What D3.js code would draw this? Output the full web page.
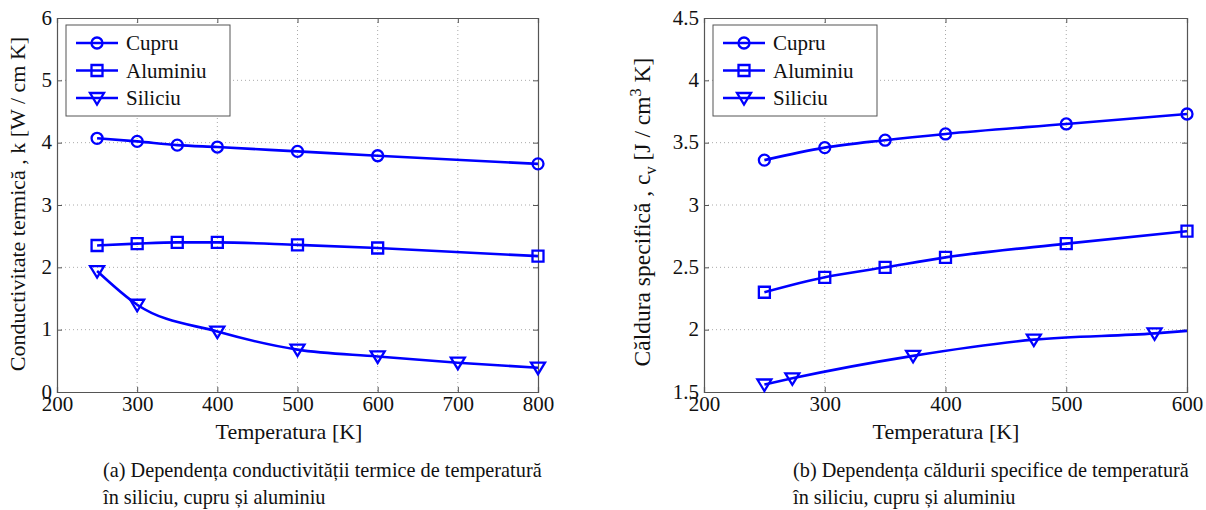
<!DOCTYPE html>
<html>
<head>
<meta charset="utf-8">
<script src="https://cdn.jsdelivr.net/npm/d3@7"></script>
<style>
  html, body { margin: 0; padding: 0; background: #fff; }
  svg { display: block; }
  svg text { font-family: "Liberation Serif", "Times New Roman", serif !important; fill: #111; }
</style>
</head>
<body>
<svg id="chart" width="1206" height="510"></svg>
<script>
// ---------- data ----------
// (a) thermal conductivity k [W / cm K]
const seriesNames = ["Cupru", "Aluminiu", "Siliciu"];
const leftTemps = [250, 300, 350, 400, 500, 600, 800];
const leftCupru = [4.07, 4.02, 3.96, 3.93, 3.86, 3.79, 3.66];
const leftAluminiu = [2.35, 2.38, 2.40, 2.40, 2.36, 2.31, 2.18];
const leftSiliciuTemps = [250, 300, 400, 500, 600, 700, 800];
const leftSiliciu = [1.94, 1.40, 0.97, 0.68, 0.57, 0.47, 0.39];
const leftXTicks = [200, 300, 400, 500, 600, 700, 800];
const leftYTicks = [0, 1, 2, 3, 4, 5, 6];

// (b) specific heat c_v [J / cm^3 K]
const rightTemps = [250, 300, 350, 400, 500, 600];
const rightCupru = [3.36, 3.46, 3.52, 3.57, 3.65, 3.73];
const rightAluminiu = [2.30, 2.42, 2.50, 2.58, 2.69, 2.79];
const rightSiliciuTemps = [250, 273.15, 373.15, 473.15, 573.15, 600];
const rightSiliciu = [1.56, 1.61, 1.79, 1.92, 1.97, 1.99];
const rightSiliciuMarked = [true, true, true, true, true, false];
const rightXTicks = [200, 300, 400, 500, 600];
const rightYTicks = [1.5, 2, 2.5, 3, 3.5, 4, 4.5];

const xLabel = "Temperatura [K]";
const captionA = ["(a) Dependența conductivității termice de temperatură", "în siliciu, cupru și aluminiu"];
const captionB = ["(b) Dependența căldurii specifice de temperatură", "în siliciu, cupru și aluminiu"];

// ---------- drawing ----------
const svg = d3.select("#chart");
const BLUE = "#0000ff";
const SERIF = "'Liberation Serif', 'Times New Roman', serif";
const FS_TICK = 21, FS_LABEL = 22, FS_LEG = 21, FS_CAP = 20.3;

function zip(xs, ys, flags) {
  return xs.map((x, i) => ({ x, y: ys[i], m: flags ? flags[i] : true }));
}

function markerPath(kind) {
  if (kind === "circle") {
    const r = 5.5;
    return `M${-r},0A${r},${r} 0 1,0 ${r},0A${r},${r} 0 1,0 ${-r},0Z`;
  }
  if (kind === "square") {
    const h = 5.5;
    return `M${-h},${-h}H${h}V${h}H${-h}Z`;
  }
  const w = 7, t = 5, b = 6.5;
  return `M${-w},${-t}H${w}L0,${b}Z`;
}

function drawPanel(cfg) {
  const { x0, x1, y0, y1 } = cfg;
  const x = d3.scaleLinear().domain(cfg.xDomain).range([x0, x1]);
  const y = d3.scaleLinear().domain(cfg.yDomain).range([y1, y0]);
  const g = svg.append("g");

  // grid
  g.append("g").selectAll("line").data(cfg.xTicks.slice(1, -1)).join("line")
    .attr("x1", d => x(d)).attr("x2", d => x(d)).attr("y1", y0).attr("y2", y1)
    .attr("stroke", "#aaa").attr("stroke-width", 1).attr("stroke-dasharray", "1,3");
  g.append("g").selectAll("line").data(cfg.yTicks.slice(1, -1)).join("line")
    .attr("y1", d => y(d)).attr("y2", d => y(d)).attr("x1", x0).attr("x2", x1)
    .attr("stroke", "#aaa").attr("stroke-width", 1).attr("stroke-dasharray", "1,3");

  // axes (ticks inward on all sides)
  const fmt = d => String(d);
  const axB = g.append("g").attr("transform", `translate(0,${y1})`)
    .call(d3.axisBottom(x).tickValues(cfg.xTicks).tickSize(-5).tickPadding(4).tickFormat(fmt));
  const axT = g.append("g").attr("transform", `translate(0,${y0})`)
    .call(d3.axisTop(x).tickValues(cfg.xTicks).tickSize(-5).tickFormat(""));
  const axL = g.append("g").attr("transform", `translate(${x0},0)`)
    .call(d3.axisLeft(y).tickValues(cfg.yTicks).tickSize(-5).tickPadding(5).tickFormat(fmt));
  const axR = g.append("g").attr("transform", `translate(${x1},0)`)
    .call(d3.axisRight(y).tickValues(cfg.yTicks).tickSize(-5).tickFormat(""));
  [axB, axT, axL, axR].forEach(a => {
    a.attr("font-family", SERIF).attr("font-size", FS_TICK);
    a.select(".domain").attr("stroke", "#555").attr("stroke-width", 1.2);
    a.selectAll(".tick line").attr("stroke", "#555");
    a.selectAll(".tick text").style("font-family", SERIF).attr("font-size", FS_TICK).attr("fill", "#111");
  });
  axB.selectAll(".tick text").attr("dy", "0.71em");
  axL.selectAll(".tick text").attr("dy", "0.30em");

  // series
  const line = d3.line().x(d => x(d.x)).y(d => y(d.y)).curve(d3.curveMonotoneX);
  cfg.series.forEach(s => {
    const pts = zip(s.xs, s.ys, s.flags);
    g.append("path").datum(pts).attr("d", line)
      .attr("fill", "none").attr("stroke", BLUE).attr("stroke-width", 2.6);
    g.append("g").selectAll("path").data(pts.filter(p => p.m)).join("path")
      .attr("transform", d => `translate(${x(d.x)},${y(d.y)})`)
      .attr("d", markerPath(s.marker))
      .attr("fill", "none").attr("stroke", BLUE).attr("stroke-width", 2.3);
  });

  // legend
  const lg = g.append("g").attr("transform", `translate(${x0 + 9},${y0 + 7})`);
  lg.append("rect").attr("width", 164).attr("height", 91)
    .attr("fill", "#fff").attr("stroke", "#555").attr("stroke-width", 1);
  cfg.series.forEach((s, i) => {
    const cy = 18 + i * 27.5;
    lg.append("line").attr("x1", 10).attr("x2", 52).attr("y1", cy).attr("y2", cy)
      .attr("stroke", BLUE).attr("stroke-width", 2.6);
    lg.append("path").attr("transform", `translate(31,${cy})`).attr("d", markerPath(s.marker))
      .attr("fill", "none").attr("stroke", BLUE).attr("stroke-width", 2.3);
    lg.append("text").attr("x", 60).attr("y", cy).attr("dy", "0.34em")
      .style("font-family", SERIF).attr("font-size", FS_LEG).text(s.name);
  });

  // x label
  g.append("text").attr("x", cfg.xLabelX).attr("y", 439)
    .attr("text-anchor", "middle").style("font-family", SERIF).attr("font-size", FS_LABEL).text(xLabel);

  // y label
  const yl = g.append("text")
    .attr("transform", `translate(${cfg.yLabelX},${cfg.yLabelY}) rotate(-90)`)
    .attr("text-anchor", "middle").style("font-family", SERIF).attr("font-size", cfg.yLabelSize);
  cfg.yLabel(yl);

  // caption
  cfg.caption.forEach((t, i) => {
    g.append("text").attr("x", cfg.captionX).attr("y", 477 + i * 27)
      .style("font-family", SERIF).attr("font-size", FS_CAP).text(t);
  });
}

drawPanel({
  x0: 57, x1: 538, y0: 18, y1: 392,
  xDomain: [200, 800], yDomain: [0, 6],
  xTicks: leftXTicks, yTicks: leftYTicks,
  series: [
    { name: seriesNames[0], xs: leftTemps, ys: leftCupru, marker: "circle" },
    { name: seriesNames[1], xs: leftTemps, ys: leftAluminiu, marker: "square" },
    { name: seriesNames[2], xs: leftSiliciuTemps, ys: leftSiliciu, marker: "triangle" }
  ],
  xLabelX: 289,
  yLabelX: 25, yLabelY: 204, yLabelSize: 22,
  yLabel: t => t.text("Conductivitate termică , k [W / cm K]"),
  caption: captionA, captionX: 103
});

drawPanel({
  x0: 704, x1: 1187, y0: 18, y1: 392,
  xDomain: [200, 600], yDomain: [1.5, 4.5],
  xTicks: rightXTicks, yTicks: rightYTicks,
  series: [
    { name: seriesNames[0], xs: rightTemps, ys: rightCupru, marker: "circle" },
    { name: seriesNames[1], xs: rightTemps, ys: rightAluminiu, marker: "square" },
    { name: seriesNames[2], xs: rightSiliciuTemps, ys: rightSiliciu, flags: rightSiliciuMarked, marker: "triangle" }
  ],
  xLabelX: 946,
  yLabelX: 650, yLabelY: 212, yLabelSize: 23.5,
  yLabel: t => {
    const fs = 23.5;
    t.append("tspan").text("Căldura specifică , c");
    t.append("tspan").attr("font-size", fs * 0.7).attr("dy", 6).text("v");
    t.append("tspan").attr("dy", -6).text(" [J / cm");
    t.append("tspan").attr("font-size", fs * 0.7).attr("dy", -9).text("3");
    t.append("tspan").attr("dy", 9).text(" K]");
  },
  caption: captionB, captionX: 793
});
</script>
</body>
</html>
